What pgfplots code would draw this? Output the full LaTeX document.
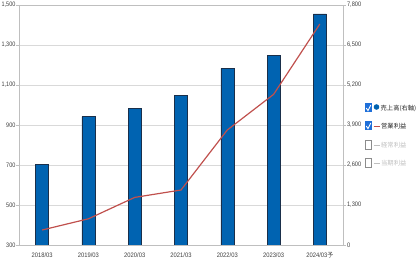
\documentclass[border=0pt]{standalone}
\usepackage{fontspec}
\setmainfont{Liberation Sans}
\newfontfamily\cjk{Noto Sans CJK JP}
\usepackage{pgfplots}
\pgfplotsset{compat=1.18}
\definecolor{barblue}{HTML}{0063B1}
\definecolor{baredge}{HTML}{1A2F4A}
\definecolor{linered}{HTML}{C0504D}
\definecolor{gridgray}{HTML}{D9D9D9}
\definecolor{axgray}{HTML}{BFBFBF}
\definecolor{txt}{HTML}{404040}
\definecolor{chk}{HTML}{1E6FD9}
\begin{document}
\begin{tikzpicture}[x=1bp,y=1bp]
\useasboundingbox (0,0) rectangle (419,267);
% right axis: sales (bars)
\begin{axis}[at={(19bp,22bp)}, anchor=south west, scale only axis,
  width=324bp, height=240bp,
  xmin=-0.5, xmax=6.5, ymin=0, ymax=7800,
  axis y line*=right, axis x line*=bottom,
  axis line style={axgray, line width=0.6pt},
  ytick={0,1300,...,7800},
  ymajorgrids, grid style={gridgray, line width=0.8pt},
  xtick={0,...,6},
  xticklabels={2018/03,2019/03,2020/03,2021/03,2022/03,2023/03,{2024/03{\cjk 予}}},
  minor xtick={0.5,1.5,...,5.5},
  major tick length=3bp, minor tick length=4bp, tick align=outside,
  xtick style={draw=none},
  minor x tick style={axgray, line width=0.5pt, yshift=4bp},
  ytick style={axgray, line width=0.5pt},
  yticklabel style={font=\fontsize{6.5}{7}\selectfont, text=txt, inner sep=1bp, xscale=0.88, anchor=west},
  xticklabel style={font=\fontsize{6.5}{7}\selectfont, text=txt, yshift=-1bp, xscale=0.9},
  scaled y ticks=false,
  /pgf/number format/.cd, 1000 sep={,}, assume math mode=true,
]
\addplot[ybar, bar width=13bp, fill=barblue, draw=baredge, line width=0.5pt]
  coordinates {(0,2623) (1,4170) (2,4430) (3,4875) (4,5742) (5,6153) (6,7508)};
\draw[black!25, line width=1.2pt] (rel axis cs:0,1) -- (rel axis cs:1,1);
\end{axis}
% left axis: operating profit (line)
\begin{axis}[at={(19bp,22bp)}, anchor=south west, scale only axis,
  width=324bp, height=240bp,
  xmin=-0.5, xmax=6.5, ymin=300, ymax=1500,
  axis y line*=left, axis x line=none,
  axis line style={axgray, line width=0.6pt},
  ytick={300,500,...,1500},
  major tick length=3bp, tick align=outside,
  ytick style={axgray, line width=0.5pt},
  yticklabel style={font=\fontsize{6.5}{7}\selectfont, text=txt, inner sep=0.5bp, xscale=0.85, anchor=east},
  scaled y ticks=false,
  /pgf/number format/.cd, 1000 sep={,}, assume math mode=true,
]
\addplot[linered, line width=1.2pt, mark=none]
  coordinates {(0,375) (1,431) (2,538) (3,575) (4,875) (5,1053) (6,1405)};
\end{axis}
% legend
\begin{scope}[font=\cjk\fontsize{6.3}{7}\selectfont]
  % row 1
  \fill[chk] (365,154.5) rectangle (372,163.5);
  \draw[white, line width=0.9pt] (366.3,159) -- (368,156.3) -- (370.8,162);
  \fill[barblue] (376.5,160) circle (2.8);
  \node[anchor=west, inner sep=0, text=black!85] at (380.5,158.5) {売上高(右軸)};
  % row 2
  \fill[chk] (365,136.5) rectangle (372,145.5);
  \draw[white, line width=0.9pt] (366.3,141) -- (368,138.3) -- (370.8,144);
  \draw[linered, line width=1pt] (373.5,141) -- (380,141);
  \node[anchor=west, inner sep=0, text=black!85] at (381,140.5) {営業利益};
  % row 3
  \draw[black!45, line width=0.5pt] (365.3,117.5) rectangle (371.7,126.5);
  \draw[black!25, line width=0.8pt] (373.5,122) -- (380,122);
  \node[anchor=west, inner sep=0, text=black!25] at (381,121.5) {経常利益};
  % row 4
  \draw[black!45, line width=0.5pt] (365.3,99.5) rectangle (371.7,108.5);
  \draw[black!25, line width=0.8pt] (373.5,104) -- (380,104);
  \node[anchor=west, inner sep=0, text=black!25] at (381,103.5) {当期利益};
\end{scope}
\end{tikzpicture}
\end{document}
